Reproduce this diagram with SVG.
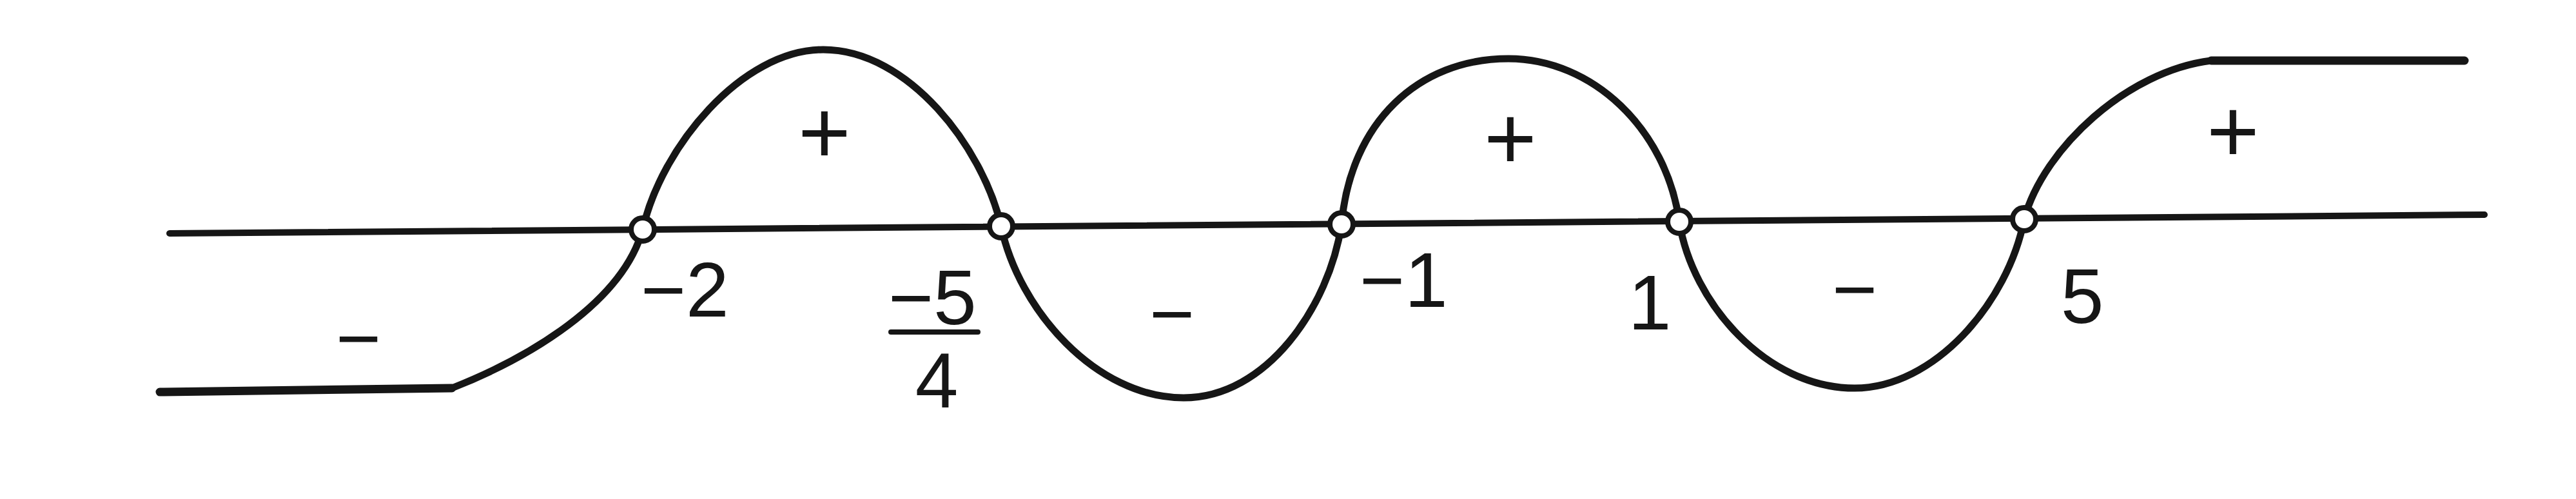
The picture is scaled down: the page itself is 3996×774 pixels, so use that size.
<svg xmlns="http://www.w3.org/2000/svg" width="3996" height="774" viewBox="0 0 3996 774">
<style>
.ln{fill:none;stroke:#161616;stroke-linecap:round;stroke-linejoin:round}
.ax{stroke-width:10}
.cv{stroke-width:11}
.fl{stroke-width:13}
.pt{fill:#fff;stroke:#161616;stroke-width:8}
.lb{font-family:"Liberation Sans",Arial,sans-serif;font-size:120px;fill:#161616}
.sg{font-family:"Liberation Sans",Arial,sans-serif;fill:#161616;text-anchor:middle}
</style>
<rect width="3996" height="774" fill="#fff"/>
<g id="connectors">
<path id="sign-curve" class="ln cv" d="M701,602 C820,555 965,470 997,356 C1025,230 1150,77 1277,77 C1410,77 1525,230 1553,351 C1580,480 1700,617 1836,617 C1965,617 2062,475 2081,348 C2095,190 2200,91 2340,91 C2470,91 2585,200 2605,344 C2625,470 2740,602 2877,602 C3000,602 3115,470 3140,340 C3170,230 3300,110 3430,94"/>
<path id="left-flat" class="ln fl" d="M248,608 L701,602"/>
<path id="right-flat" class="ln fl" d="M3430,94 L3823,94"/>
<path id="axis" class="ln ax" d="M263,362 L3854,333"/>
</g>
<g id="root-neg2">
<circle class="pt" cx="997" cy="356" r="18"/>
<text class="lb" x="994" y="491">−2</text>
</g>
<g id="root-neg5-4">
<circle class="pt" cx="1553" cy="351" r="18"/>
<text class="lb" x="1378" y="503">−5</text>
<line class="ln" x1="1382" y1="515" x2="1517" y2="515" stroke-width="8"/>
<text class="lb" x="1453" y="632" text-anchor="middle">4</text>
</g>
<g id="root-neg1">
<circle class="pt" cx="2081" cy="348" r="18"/>
<text class="lb" x="2109" y="476">−1</text>
</g>
<g id="root-1">
<circle class="pt" cx="2605" cy="344" r="18"/>
<text class="lb" x="2559" y="511" text-anchor="middle">1</text>
</g>
<g id="root-5">
<circle class="pt" cx="3140" cy="340" r="18"/>
<text class="lb" x="3230" y="501" text-anchor="middle">5</text>
</g>
<g id="signs">
<text class="sg" x="556" y="566" font-size="120">−</text>
<text class="sg" x="1279" y="253" font-size="140">+</text>
<text class="sg" x="1818" y="528" font-size="120">−</text>
<text class="sg" x="2343" y="262" font-size="140">+</text>
<text class="sg" x="2877" y="490" font-size="120">−</text>
<text class="sg" x="3464" y="251" font-size="140">+</text>
</g>
</svg>
